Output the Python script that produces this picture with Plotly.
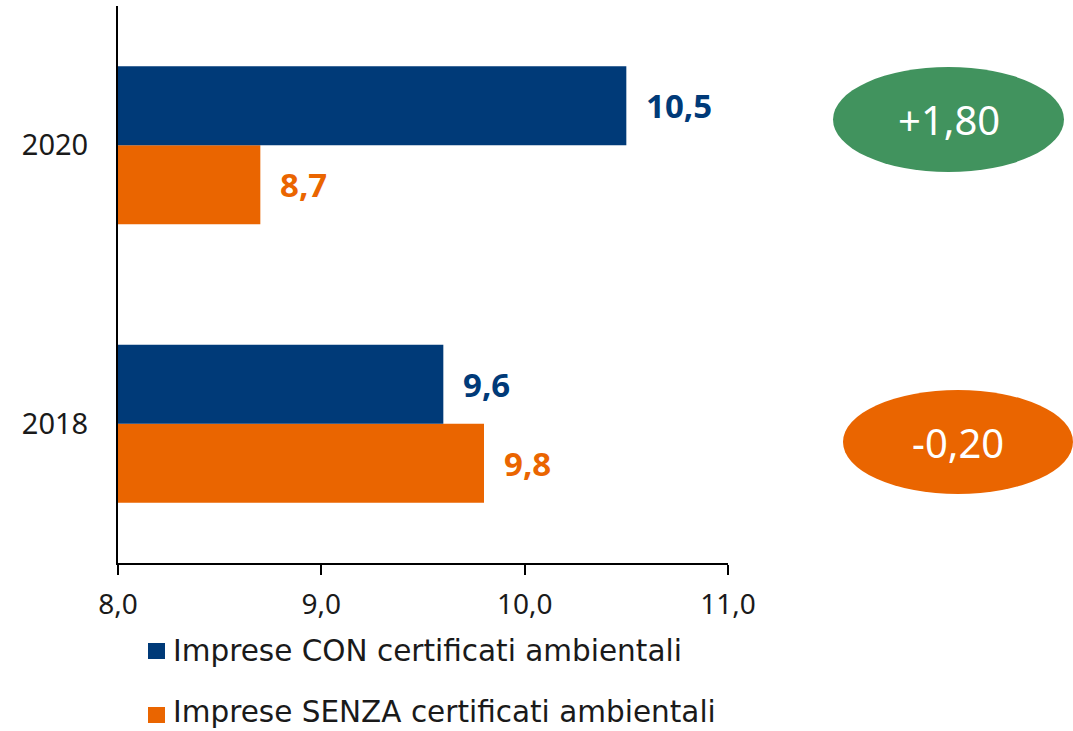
import plotly.graph_objects as go

# Dati
anni = ["2018", "2020"]
con_cert = [9.6, 10.5]      # Imprese CON certificati ambientali
senza_cert = [9.8, 8.7]     # Imprese SENZA certificati ambientali
x_ticks = [8.0, 9.0, 10.0, 11.0]
legenda = ["Imprese CON certificati ambientali", "Imprese SENZA certificati ambientali"]

NAVY = "#003A78"
ORANGE = "#EA6500"
GREEN = "#41935E"
NUM_FONT = "Noto Sans"
TXT_FONT = "DejaVu Sans"
TXT_COLOR = "#1a1a1a"

W, H = 1073, 731
L, R, T, B = 118, 345, 6, 168
PW, PH = W - L - R, H - T - B

def px_x(px):
    return (px - L) / PW

def px_y(py):
    return (H - B - py) / PH

pos = list(range(len(anni)))   # posizione numerica delle categorie

def fmt(v, sign=False):
    s = f"{v:+.2f}" if sign else f"{v:.1f}"
    return s.replace(".", ",")

fig = go.Figure()

# SENZA first so that it sits below CON inside each group
fig.add_trace(go.Bar(
    y=pos, x=senza_cert, orientation="h", name=legenda[1],
    marker=dict(color=ORANGE, line=dict(width=0)), showlegend=False,
))
fig.add_trace(go.Bar(
    y=pos, x=con_cert, orientation="h", name=legenda[0],
    marker=dict(color=NAVY, line=dict(width=0)), showlegend=False,
))

annotations = []
shapes = []

# Etichette dei valori
bar_half = 39.5
for p, c, s in zip(pos, con_cert, senza_cert):
    annotations.append(dict(x=c, y=p, xref="x", yref="y", text=f"<b>{fmt(c)}</b>",
                            showarrow=False, xanchor="left", yanchor="middle",
                            xshift=18, yshift=bar_half,
                            font=dict(family=NUM_FONT, size=33, color=NAVY)))
    annotations.append(dict(x=s, y=p, xref="x", yref="y", text=f"<b>{fmt(s)}</b>",
                            showarrow=False, xanchor="left", yanchor="middle",
                            xshift=18, yshift=-bar_half,
                            font=dict(family=NUM_FONT, size=33, color=ORANGE)))

# Differenze CON - SENZA in ellissi a destra
diffs = [round(c - s, 2) for c, s in zip(con_cert, senza_cert)]
ellipses = [
    (833, 1064, 67, 172, diffs[1]),
    (843, 1073, 390, 494, diffs[0]),
]
for x0, x1, y0, y1, d in ellipses:
    col = GREEN if d > 0 else ORANGE
    shapes.append(dict(type="circle", xref="paper", yref="paper",
                       x0=px_x(x0), x1=px_x(x1), y0=px_y(y1), y1=px_y(y0),
                       fillcolor=col, line=dict(width=0), layer="above"))
    annotations.append(dict(x=px_x((x0 + x1) / 2), y=px_y((y0 + y1) / 2),
                            xref="paper", yref="paper",
                            text=fmt(d, sign=True), showarrow=False,
                            xanchor="center", yanchor="middle",
                            font=dict(family=NUM_FONT, size=40, color="white")))

# Legenda sotto l'asse
for (label, col, yc, ty) in [(legenda[0], NAVY, 651, 651), (legenda[1], ORANGE, 715, 712)]:
    shapes.append(dict(type="rect", xref="paper", yref="paper",
                       x0=px_x(148), x1=px_x(165), y0=px_y(yc + 8), y1=px_y(yc - 8),
                       fillcolor=col, line=dict(width=0)))
    annotations.append(dict(x=px_x(171), y=px_y(ty), xref="paper", yref="paper",
                            text=label, showarrow=False,
                            xanchor="left", yanchor="middle",
                            font=dict(family=TXT_FONT, size=29.5, color=TXT_COLOR)))

fig.update_layout(
    width=W, height=H,
    margin=dict(l=L, r=R, t=T, b=B),
    plot_bgcolor="white", paper_bgcolor="white",
    barmode="group", bargap=0.433, bargroupgap=0,
    separators=",.",
    font=dict(family=NUM_FONT, size=28, color=TXT_COLOR),
    showlegend=False,
    shapes=shapes,
    annotations=annotations,
)

fig.update_xaxes(range=[8, 11], tickvals=x_ticks, tickformat=".1f",
                 showgrid=False, zeroline=False,
                 showline=True, linecolor="black", linewidth=2,
                 ticks="outside", ticklen=10, tickwidth=2, tickcolor="black",
                 ticklabelstandoff=5,
                 tickfont=dict(family=NUM_FONT, size=28, color=TXT_COLOR))
fig.update_yaxes(range=[-0.5, 1.5], tickvals=pos, ticktext=anni,
                 showgrid=False, zeroline=False,
                 showline=True, linecolor="black", linewidth=2,
                 ticks="", ticklabelstandoff=22,
                 tickfont=dict(family=NUM_FONT, size=29, color=TXT_COLOR))

fig.write_html("out.html")
